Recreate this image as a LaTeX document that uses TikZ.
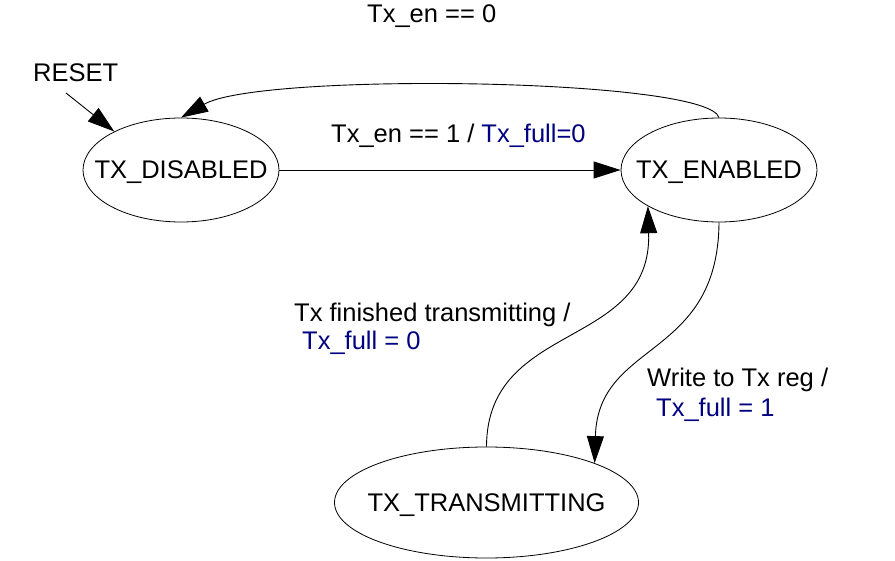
\documentclass[tikz,border=0pt]{standalone}
\usepackage{fontspec}
\setmainfont{Liberation Sans}
\usetikzlibrary{arrows.meta,shapes.geometric}
\definecolor{navyblue}{RGB}{0,0,128}
\tikzset{
  statebox/.style={draw=black, line width=0.8pt, ellipse, inner sep=0pt},
  txt/.style={inner sep=0pt, font=\fontsize{25.5pt}{30pt}\selectfont, text=black},
  conn/.style={draw=black, line width=0.9pt, -{Triangle[length=27pt,width=17pt]}},
  plain/.style={draw=black, line width=0.9pt},
}
\begin{document}
\begin{tikzpicture}[x=1pt,y=-1pt]
\useasboundingbox (0,0) rectangle (895,561);
\fill[white] (0,0) rectangle (895,561);
% states
\node[statebox, minimum width=196pt, minimum height=104pt] (dis) at (181,170) {};
\node[statebox, minimum width=196pt, minimum height=104pt] (en) at (719,170) {};
\node[statebox, minimum width=304pt, minimum height=111pt] (tr) at (486.5,502.5) {};
\node[txt, anchor=base] (dist) at ([yshift=-9pt]dis.center) {TX\_DISABLED};
\node[txt, anchor=base] (ent) at ([yshift=-9pt]en.center) {TX\_ENABLED};
\node[txt, anchor=base] (trt) at ([yshift=-9pt]tr.center) {TX\_TRANSMITTING};
% labels
\node[txt, anchor=base west] (l0) at (367,22.5) {Tx\_en == 0};
\node[txt, anchor=base west] (reset) at (33,82) {RESET};
\node[txt, anchor=base west] (l1) at (331,143) {Tx\_en == 1 / \textcolor{navyblue}{Tx\_full=0}};
\node[txt, anchor=base west] (l2a) at (294,322) {Tx finished transmitting /};
\node[txt, anchor=base west, text=navyblue] (l2b) at (302,350) {Tx\_full = 0};
\node[txt, anchor=base west] (l3a) at (647,387) {Write to Tx reg /};
\node[txt, anchor=base west, text=navyblue] (l3b) at (656,417) {Tx\_full = 1};
% connectors
\coordinate (rs) at (66,93);
\draw[conn] (rs) -- (dis.150);
\draw[conn] (dis.east) -- (en.west);
\draw[conn] (en.north) .. controls (708,78) and (260,72) .. (dis.north);
\draw[conn] (tr.north) .. controls (487,320) and (652,350) .. (en.207);
\draw[conn] (en.south) .. controls (718,360) and (598,340) .. (tr.20);
\end{tikzpicture}
\end{document}
